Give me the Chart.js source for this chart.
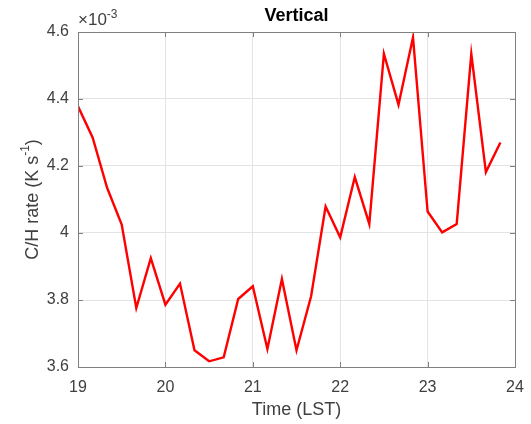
<!DOCTYPE html>
<html>
<head>
<meta charset="utf-8">
<script src="https://cdn.jsdelivr.net/npm/chart.js@4.4.1/dist/chart.umd.min.js"></script>
<style>
  html, body { margin: 0; padding: 0; background: #fff; }
  canvas { display: block; }
</style>
</head>
<body>
<canvas id="myChart" width="531" height="424"></canvas>
<script>
"use strict";

// local time (hours), one sample every 10 minutes
const times = [19.000, 19.167, 19.333, 19.500, 19.667, 19.833,
               20.000, 20.167, 20.333, 20.500, 20.667, 20.833,
               21.000, 21.167, 21.333, 21.500, 21.667, 21.833,
               22.000, 22.167, 22.333, 22.500, 22.667, 22.833,
               23.000, 23.167, 23.333, 23.500, 23.667, 23.833];

// C/H rate in units of 1e-3 K/s
const chRate = [4.378, 4.285, 4.135, 4.025, 3.776, 3.925,
                3.786, 3.849, 3.650, 3.617, 3.629, 3.803,
                3.841, 3.654, 3.863, 3.650, 3.811, 4.079,
                3.987, 4.167, 4.027, 4.535, 4.383, 4.584,
                4.064, 4.002, 4.027, 4.535, 4.182, 4.270];

const xTicks = [19, 20, 21, 22, 23, 24];
const yTicks = [3.6, 3.8, 4, 4.2, 4.4, 4.6];

const axisColor = "#808080";
const textColor = "#404040";
const font = "'Liberation Sans', Arial, sans-serif";

const noPad = (s) => {
    s.paddingLeft = 0; s.paddingRight = 0;
    s.paddingTop = 0; s.paddingBottom = 0;
};

const matlabAxes = {
    id: "matlabAxes",
    beforeDraw: (chart) => {
        const c = chart.ctx;
        c.save();
        c.fillStyle = "#fff";
        c.fillRect(0, 0, chart.width, chart.height);
        c.restore();
    },
    afterDraw: (chart) => {
        const c = chart.ctx;
        const a = chart.chartArea;
        const xs = chart.scales.x, ys = chart.scales.y;
        c.save();
        // box
        c.strokeStyle = axisColor;
        c.lineWidth = 1;
        c.strokeRect(Math.round(a.left) + 0.5, Math.round(a.top) + 0.5,
                     Math.round(a.right - a.left), Math.round(a.bottom - a.top));
        // inward ticks
        c.beginPath();
        xTicks.forEach(t => {
            const px = Math.round(xs.getPixelForValue(t)) + 0.5;
            c.moveTo(px, a.bottom); c.lineTo(px, a.bottom - 5);
            c.moveTo(px, a.top); c.lineTo(px, a.top + 5);
        });
        yTicks.forEach(t => {
            const py = Math.round(ys.getPixelForValue(t)) + 0.5;
            c.moveTo(a.left, py); c.lineTo(a.left + 5, py);
            c.moveTo(a.right, py); c.lineTo(a.right - 5, py);
        });
        c.stroke();

        // title
        c.fillStyle = "#000";
        c.font = "bold 18px " + font;
        c.textAlign = "center";
        c.textBaseline = "middle";
        c.fillText("Vertical", (a.left + a.right) / 2, 16);

        // exponent
        c.fillStyle = textColor;
        c.textAlign = "left";
        c.textBaseline = "alphabetic";
        c.font = "17px " + font;
        c.fillText("\u00d710", a.left, 25);
        const w10 = c.measureText("\u00d710").width;
        c.font = "12px " + font;
        c.fillText("-3", a.left + w10, 18);

        // x title
        c.font = "18px " + font;
        c.textAlign = "center";
        c.textBaseline = "middle";
        c.fillText("Time (LST)", (a.left + a.right) / 2, 410);

        // y title (rotated, with superscript)
        c.translate(33, (a.top + a.bottom) / 2);
        c.rotate(-Math.PI / 2);
        c.textAlign = "left";
        c.textBaseline = "middle";
        const p1 = "C/H rate (K s", p2 = "-1", p3 = ")";
        c.font = "18px " + font;
        const w1 = c.measureText(p1).width, w3 = c.measureText(p3).width;
        c.font = "12px " + font;
        const w2 = c.measureText(p2).width;
        let x0 = -(w1 + w2 + w3) / 2;
        c.font = "18px " + font;
        c.fillText(p1, x0, 0);
        c.font = "12px " + font;
        c.fillText(p2, x0 + w1, -7);
        c.font = "18px " + font;
        c.fillText(p3, x0 + w1 + w2, 0);
        c.restore();
    }
};

const ctx = document.getElementById("myChart");

new Chart(ctx, {
    type: "line",
    data: {
        datasets: [{
            data: times.map((t, i) => ({ x: t, y: chRate[i] })),
            borderColor: "#ff0000",
            borderWidth: 2.4,
            pointRadius: 0,
            tension: 0,
            fill: false
        }]
    },
    options: {
        responsive: false,
        animation: false,
        events: [],
        layout: { padding: { top: 32, right: 16, bottom: 0, left: 0 } },
        plugins: {
            legend: { display: false },
            tooltip: { enabled: false }
        },
        scales: {
            x: {
                type: "linear",
                min: 19,
                max: 24,
                afterBuildTicks: (s) => { s.ticks = xTicks.map(v => ({ value: v })); },
                afterFit: (s) => { s.height = 57; noPad(s); },
                grid: { color: "#e3e3e3", drawTicks: false },
                border: { display: false },
                ticks: {
                    padding: 11,
                    color: textColor,
                    font: { family: font, size: 16 },
                    maxRotation: 0,
                    callback: (v) => String(v)
                }
            },
            y: {
                min: 3.6,
                max: 4.6,
                afterBuildTicks: (s) => { s.ticks = yTicks.map(v => ({ value: v })); },
                afterFit: (s) => { s.width = 78; noPad(s); },
                grid: { color: "#e3e3e3", drawTicks: false },
                border: { display: false },
                ticks: {
                    padding: 9,
                    color: textColor,
                    font: { family: font, size: 16 },
                    callback: (v) => String(Math.round(v * 10) / 10)
                }
            }
        }
    },
    plugins: [matlabAxes]
});
</script>
</body>
</html>
